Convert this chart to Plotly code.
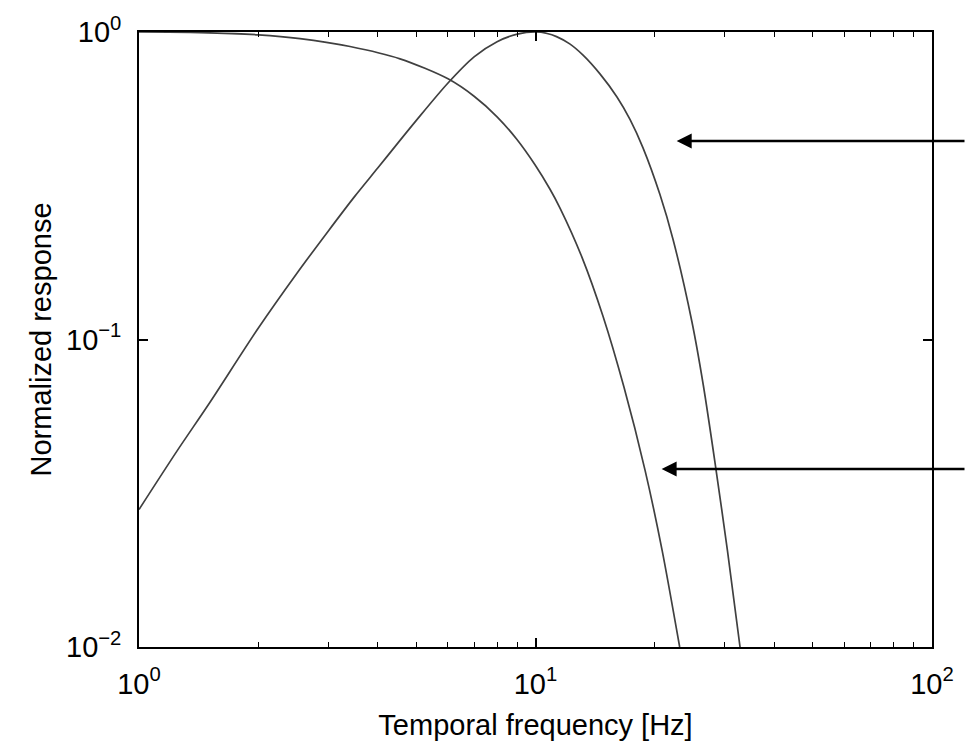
import math
import plotly.graph_objects as go

# Data (log-log axes)
lowpass_freq = [1.0, 1.425, 2.0, 2.547, 3.406, 4.553, 6.016, 7.0, 8.0, 8.98, 9.97,
                10.88, 11.53, 13.1, 14.8, 16.72, 18.89, 20.85, 23.1]
lowpass_resp = [1.0, 0.9956, 0.979, 0.952, 0.897, 0.818, 0.704, 0.618, 0.53, 0.447,
                0.370, 0.308, 0.2675, 0.185, 0.119, 0.0699, 0.0376, 0.0207, 0.01]

bandpass_freq = [1.0, 1.25, 1.5, 2.0, 2.5, 3.0, 3.5, 4.0, 4.5, 5.0, 6.0, 7.0, 8.0, 9.0,
                 10.0, 10.7, 11.3, 12.2, 13.18, 14.54, 16.05, 17.31, 18.67, 20.6,
                 22.23, 24.81, 26.5, 28.36, 30.5, 32.8]
bandpass_resp = [0.028, 0.0436, 0.0617, 0.109, 0.164, 0.225, 0.292, 0.361, 0.436,
                 0.515, 0.68, 0.83, 0.93, 0.984, 1.0, 0.989, 0.966, 0.915, 0.841,
                 0.731, 0.615, 0.520, 0.420, 0.296, 0.2115, 0.114, 0.071, 0.0398,
                 0.0205, 0.01]

x_tick_vals = [1, 10, 100]
x_tick_text = ["10<sup>0</sup>", "10<sup>1</sup>", "10<sup>2</sup>"]
y_tick_vals = [0.01, 0.1, 1]
y_tick_text = ["10<sup>\u22122</sup>", "10<sup>\u22121</sup>", "10<sup>0</sup>"]
x_minor_vals = [k * 10 ** e for e in (0, 1) for k in range(2, 10)]

# Arrow tips (data coordinates)
arrow_x = [22.7, 20.8]
arrow_y = [0.442, 0.0379]

FONT = "Liberation Sans, Arial, Helvetica, sans-serif"
line_color = "#404040"

fig = go.Figure()
for xs, ys in ((lowpass_freq, lowpass_resp), (bandpass_freq, bandpass_resp)):
    fig.add_trace(go.Scatter(x=xs, y=ys, mode="lines",
                             line=dict(color=line_color, width=1.7, shape="spline",
                                       smoothing=0.8),
                             showlegend=False, hoverinfo="skip"))

# annotations on log axes take log10 positions
for ax_, ay_ in zip(arrow_x, arrow_y):
    fig.add_annotation(x=math.log10(ax_), y=math.log10(ay_), xref="x", yref="y",
                       text="", showarrow=True, arrowhead=2, arrowsize=1.2,
                       arrowwidth=2.5, arrowcolor="black", ax=360, ay=0,
                       axref="pixel", ayref="pixel")

fig.update_layout(
    width=966, height=748,
    margin=dict(l=139, r=34, t=30, b=94),
    paper_bgcolor="white", plot_bgcolor="white",
    font=dict(family=FONT, size=29, color="black"),
    showlegend=False,
)
fig.update_xaxes(
    type="log", range=[0, 2],
    tickmode="array", tickvals=x_tick_vals, ticktext=x_tick_text,
    ticks="inside", ticklen=9, tickwidth=1.5, tickcolor="black",
    minor=dict(ticks="inside", ticklen=5, tickwidth=1.2, tickcolor="black",
               tickvals=x_minor_vals, showgrid=False),
    showline=True, linecolor="black", linewidth=1.6, mirror="ticks",
    showgrid=False, zeroline=False,
    ticklabelstandoff=10,
    title=dict(text="Temporal frequency [Hz]", font=dict(size=29), standoff=16),
)
fig.update_yaxes(
    type="log", range=[-2, 0],
    tickmode="array", tickvals=y_tick_vals, ticktext=y_tick_text,
    ticks="inside", ticklen=9, tickwidth=1.5, tickcolor="black",
    showline=True, linecolor="black", linewidth=1.6, mirror="ticks",
    showgrid=False, zeroline=False,
    ticklabelstandoff=10,
    title=dict(text="Normalized response", font=dict(size=29), standoff=6),
)

fig.write_html("out.html")
